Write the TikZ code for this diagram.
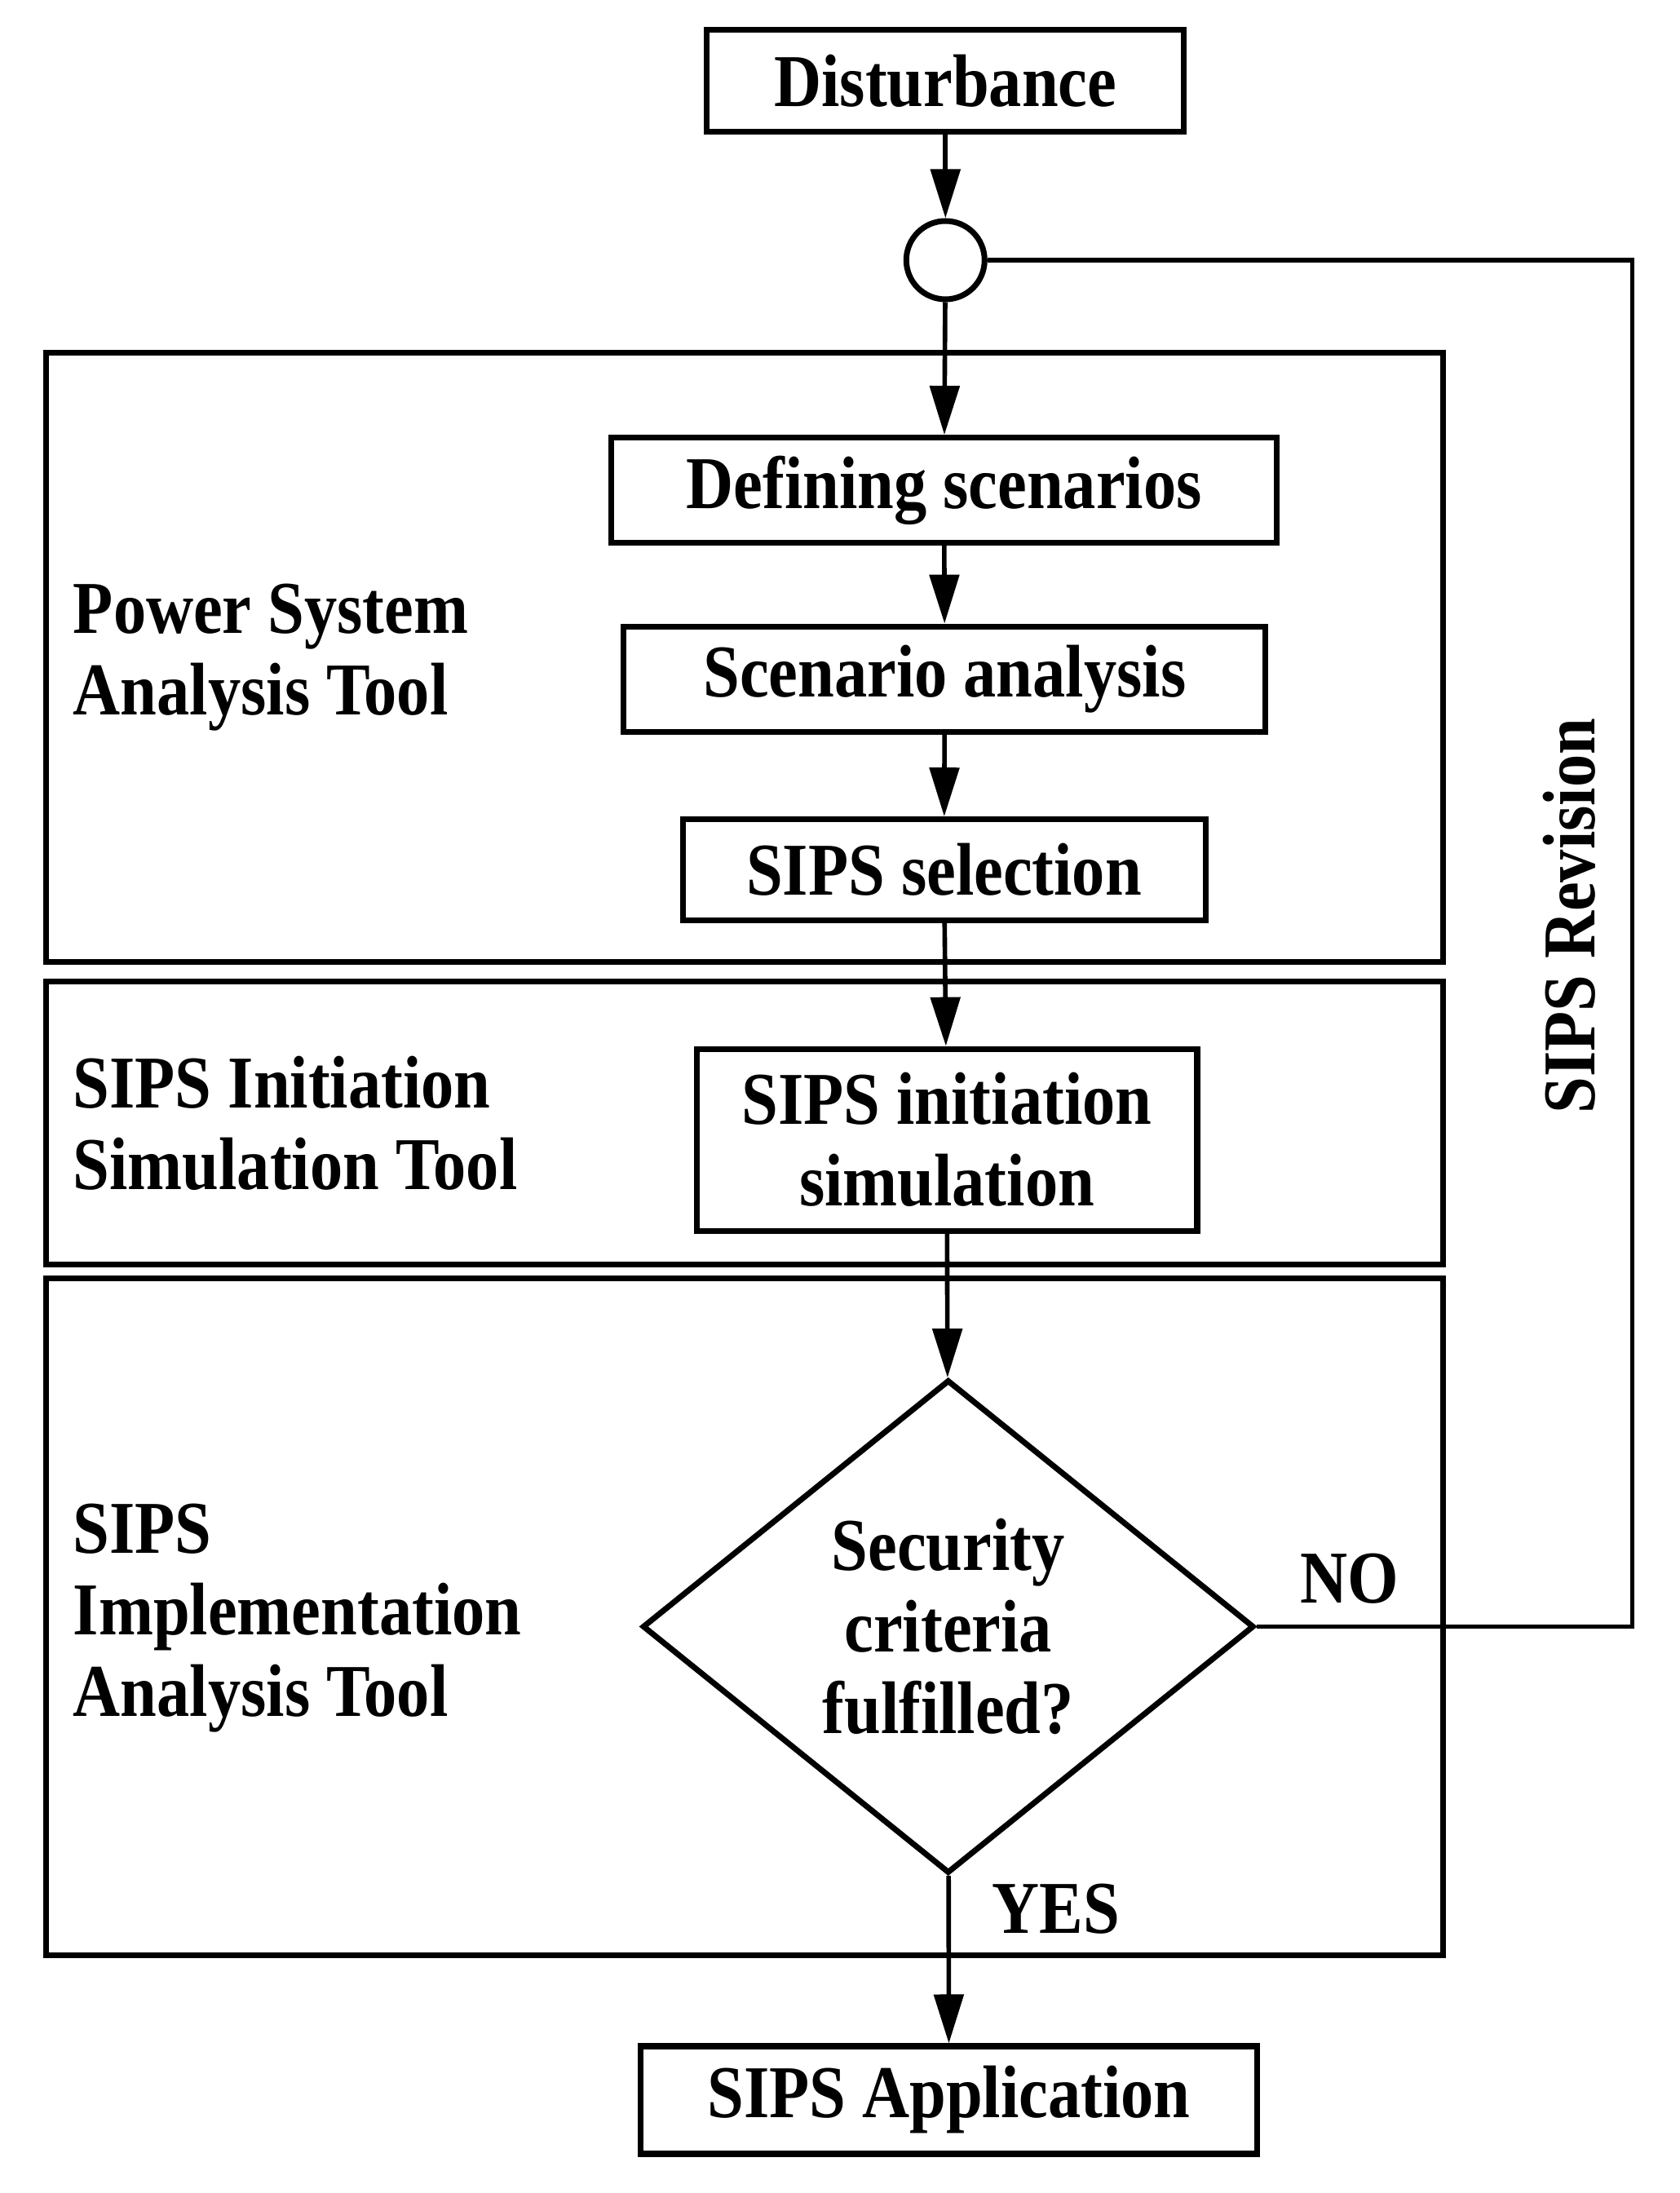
\documentclass[tikz,border=0pt]{standalone}
\usepackage{fontspec}
\setmainfont{Liberation Serif}[FakeStretch=0.88]
\usetikzlibrary{arrows.meta,shapes.geometric}

\begin{document}
\begin{tikzpicture}[x=0.017152cm,y=-0.017152cm,
    >={Triangle[length=6mm,width=3.6mm]},
    font=\fontsize{26}{28.5}\selectfont\bfseries,
    box/.style={draw,line width=2pt,inner sep=0pt,align=center},
    region/.style={draw,line width=2pt},
    link/.style={->,line width=1.6pt},
    lbl/.style={align=left,anchor=west,inner sep=0pt}]
            \useasboundingbox (0,0) rectangle (1201,1568);
            % tool regions
            \draw[region] (33,252) rectangle (1032,688);
            \draw[region] (33,702) rectangle (1032,904);
            \draw[region] (33,914) rectangle (1032,1398);
            \node[lbl] (psat) at (52,470) {Power System\\Analysis Tool};
            \node[lbl] (sist) at (52,803) {SIPS Initiation\\Simulation Tool};
            \node[lbl] (siat) at (52,1157) {SIPS\\Implementation\\Analysis Tool};
            % flow
            \node[box,minimum width=5.85cm,minimum height=1.25cm] (dist) at (676,58) {Disturbance};
            \node[circle,draw,line width=2pt,minimum size=0.96cm,inner sep=0pt] (sum) at (676,186) {};
            \node[box,minimum width=8.16cm,minimum height=1.29cm] (def) at (675,350.5) {Defining scenarios};
            \node[box,minimum width=7.87cm,minimum height=1.29cm] (ana) at (675.5,485.5) {Scenario analysis};
            \node[box,minimum width=6.41cm,minimum height=1.24cm] (sel) at (675,622) {SIPS selection};
            \node[box,minimum width=6.14cm,minimum height=2.23cm] (ini) at (677,815) {SIPS initiation\\simulation};
            \node[box,diamond,minimum width=7.5cm,minimum height=6.05cm] (dia) at (678,1163) {Security\\criteria\\fulfilled?};
            \node[box,minimum width=7.56cm,minimum height=1.32cm] (app) at (678.5,1501.5) {SIPS Application};
            \draw[link] (dist) -- (sum);
            \draw[link] (sum) -- (def);
            \draw[link] (def) -- (ana);
            \draw[link] (ana) -- (sel);
            \draw[link] (sel) -- (ini);
            \draw[link] (ini) -- (dia);
            \draw[link] (dia) -- (app);
            % revision loop
            \coordinate (rev) at (1167,186);
            \draw[line width=1.6pt] (dia.east) -| (rev) -- (sum.east);
            \node[rotate=90] (revlbl) at (1122,655) {SIPS Revision};
            \node (no) at (965,1129) {NO};
            \node (yes) at (755,1365) {YES};
        \end{tikzpicture}
\end{document}
